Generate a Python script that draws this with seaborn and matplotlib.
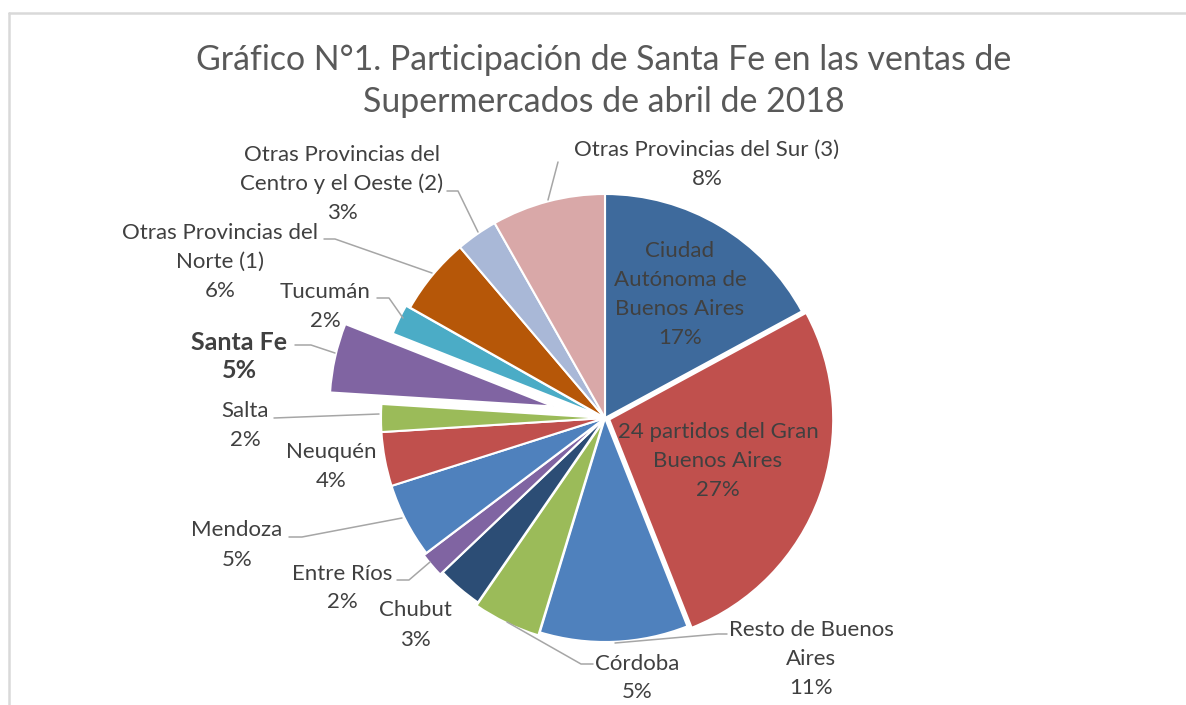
import numpy as np
import matplotlib
matplotlib.use("Agg")
import matplotlib.pyplot as plt
from matplotlib.lines import Line2D
import seaborn as sns

# data (shares of April 2018 supermarket sales, %)
regions = ["Ciudad\nAutónoma de\nBuenos Aires", "24 partidos del Gran\nBuenos Aires", "Resto de Buenos\nAires",
           "Córdoba", "Chubut", "Entre Ríos", "Mendoza", "Neuquén", "Salta", "Santa Fe", "Tucumán",
           "Otras Provincias del\nNorte (1)", "Otras Provincias del\nCentro y el Oeste (2)", "Otras Provincias del Sur (3)"]
shares = [17.1, 26.9, 10.7, 4.9, 3.3, 1.8, 5.4, 3.9, 2.0, 5.0, 2.2, 5.6, 3.0, 8.2]
colors = ["#3E6A9C", "#C0504D", "#4F81BD", "#9BBB59", "#2C4D75", "#8064A2", "#4F81BD",
          "#C0504D", "#9BBB59", "#8064A2", "#4BACC6", "#B65708", "#A9B8D7", "#D9A8A8"]
explode = [0, 0.02, 0, 0.015, 0, 0.015, 0, 0, 0, 0.235, 0.02, 0, 0, 0]

# layout (pixel positions of label centres and leader lines)
W, H = 1186, 705
cx, cy, R = 605, 418, 224
label_pos = [(680, 294), (718, 461), (811, 659), (637, 678), (415, 625), (342, 588), (237, 545),
             (331, 466), (245, 425), (239, 356), (325, 306), (220, 262), (342, 184), (707, 164)]
leaders = {
    2: [(727, 634), (718, 634), (615, 643)],
    3: [(593, 664), (581, 664), (507, 622)],
    5: [(397, 580), (409, 580), (430, 562)],
    6: [(289, 537), (302, 537), (402, 518)],
    8: [(274, 418), (379, 414)],
    9: [(295, 345), (311, 345), (335, 353)],
    10: [(377, 298), (389, 298), (403, 318)],
    11: [(324, 239), (335, 239), (432, 273)],
    12: [(447, 191), (458, 191), (478, 232)],
    13: [(548, 200), (558, 162)],
}

sns.set_theme(style="white")
plt.rcParams['font.family'] = ['Lato', 'DejaVu Sans']

def px(x, y):
    return (x - cx) / R, (cy - y) / R

fig = plt.figure(figsize=(W / 100, H / 100), dpi=100)
ax = fig.add_axes([0, 0, 1, 1])
ax.pie(shares, colors=colors, explode=explode, startangle=90, counterclock=False,
       radius=1, center=(0, 0), wedgeprops=dict(edgecolor="white", linewidth=1.5))
ax.set_xlim(-cx / R, (W - cx) / R)
ax.set_ylim(-(H - cy) / R, cy / R)
ax.set_aspect('auto')
ax.axis('off')

# one text per line, Excel-like spacing of ~29 px
for i, (name, v) in enumerate(zip(regions, shares)):
    bold = name == "Santa Fe"
    lines = name.split("\n") + [f"{round(v)}%"]
    lx, ly = label_pos[i]
    step = 28 if bold else 29
    for k, line in enumerate(lines):
        yy = ly + (k - (len(lines) - 1) / 2) * step
        ax.text(*px(lx, yy), line, ha='center', va='center',
                fontsize=18 if bold else 16, fontweight='bold' if bold else 'normal',
                color="#404040")

for i, pts in leaders.items():
    xs, ys = zip(*[px(*p) for p in pts])
    ax.plot(xs, ys, color="#A6A6A6", lw=1.1)

fig.text(604 / W, 1 - 81 / H, "Gráfico N°1. Participación de Santa Fe en las ventas de\nSupermercados de abril de 2018",
         ha='center', va='center', fontsize=24.4, color="#595959", linespacing=1.37)

# chart area border
fig.add_artist(Line2D([9 / W, 1], [1 - 13 / H, 1 - 13 / H], transform=fig.transFigure, color="#D9D9D9", lw=1.8))
fig.add_artist(Line2D([9 / W, 9 / W], [0, 1 - 13 / H], transform=fig.transFigure, color="#D9D9D9", lw=1.8))

plt.savefig("out.png", dpi=100)
